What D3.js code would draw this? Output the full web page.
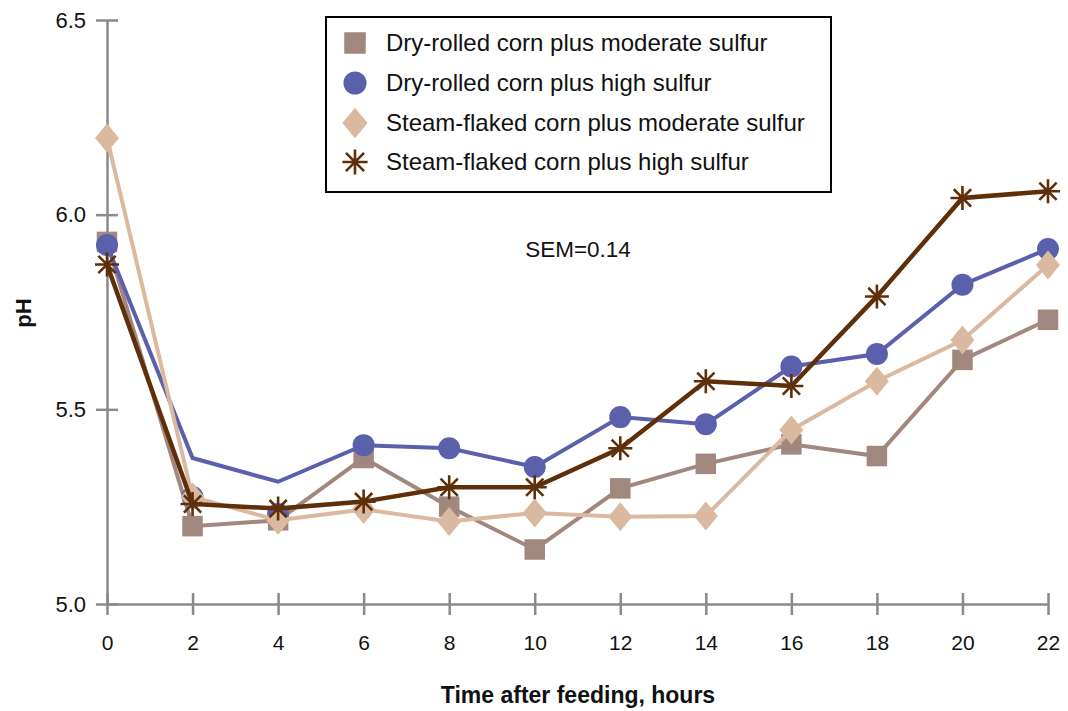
<!DOCTYPE html>
<html>
<head>
<meta charset="utf-8">
<script src="https://cdn.jsdelivr.net/npm/d3@7"></script>
<style>
  body { margin: 0; background: #fff; }
  svg { display: block; font-family: "Liberation Sans", Arial, Helvetica, sans-serif; }
</style>
</head>
<body>
<svg id="chart" width="1068" height="711"></svg>
<script>
const hours = [0, 2, 4, 6, 8, 10, 12, 14, 16, 18, 20, 22];
const xTickLabels = ["0","2","4","6","8","10","12","14","16","18","20","22"];
const yTicks = [5.0, 5.5, 6.0, 6.5];
const yTickLabels = ["5.0", "5.5", "6.0", "6.5"];

const seriesNames = [
  "Dry-rolled corn plus moderate sulfur",
  "Dry-rolled corn plus high sulfur",
  "Steam-flaked corn plus moderate sulfur",
  "Steam-flaked corn plus high sulfur"
];
const seriesColors = ["#a2877f", "#5a60ab", "#dbb9a0", "#5e2f08"];
const seriesShapes = ["square", "circle", "diamond", "star"];

const dryModerate = [5.93, 5.20, 5.215, 5.375, 5.25, 5.14, 5.297, 5.36, 5.41, 5.38, 5.627, 5.73];
const dryHighLine = [5.922, 5.375, 5.314, 5.408, 5.40, 5.352, 5.48, 5.462, 5.61, 5.642, 5.82, 5.912];
const dryHighMarkers = [5.922, 5.275, 5.231, 5.408, 5.40, 5.352, 5.48, 5.462, 5.61, 5.642, 5.82, 5.912];
const steamModerate = [6.197, 5.275, 5.215, 5.243, 5.212, 5.234, 5.224, 5.226, 5.447, 5.572, 5.678, 5.871];
const steamHigh = [5.872, 5.257, 5.245, 5.263, 5.30, 5.30, 5.40, 5.572, 5.56, 5.79, 6.043, 6.06];

const semLabel = "SEM=0.14";
const xTitle = "Time after feeding, hours";
const yTitle = "pH";

const series = [
  { line: dryModerate, markers: dryModerate },
  { line: dryHighLine, markers: dryHighMarkers },
  { line: steamModerate, markers: steamModerate },
  { line: steamHigh, markers: steamHigh }
];

const svg = d3.select("#chart");
const x = d3.scaleLinear().domain([0, 22]).range([107, 1048]);
const y = d3.scaleLinear().domain([5.0, 6.5]).range([604, 20]);
const axisColor = "#8a8a8a";
const fontFam = "Liberation Sans, Arial, sans-serif";

// Y axis
const yAxis = d3.axisLeft(y).tickValues(yTicks).tickSize(0).tickFormat((d, i) => yTickLabels[i]);
const gy = svg.append("g").attr("transform", "translate(107,0)").call(yAxis);
gy.select(".domain").attr("stroke", axisColor).attr("stroke-width", 2.5);
gy.selectAll(".tick text").attr("x", -21).attr("font-size", 22).attr("fill", "#111")
  .attr("font-family", fontFam);
gy.selectAll(".tick").append("line").attr("x1", -11).attr("x2", 11)
  .attr("stroke", axisColor).attr("stroke-width", 2.5);

// X axis
const xAxis = d3.axisBottom(x).tickValues(hours).tickSize(0).tickFormat((d, i) => xTickLabels[i]);
const gx = svg.append("g").attr("transform", "translate(0,604)").call(xAxis);
gx.select(".domain").attr("stroke", axisColor).attr("stroke-width", 2.5);
gx.selectAll(".tick text").attr("y", 46).attr("dy", 0).attr("font-size", 21).attr("fill", "#111")
  .attr("font-family", fontFam);
gx.selectAll(".tick").append("line").attr("y1", -11).attr("y2", 11)
  .attr("stroke", axisColor).attr("stroke-width", 2.5);

// Titles
svg.append("text").attr("x", 578).attr("y", 703).attr("text-anchor", "middle")
  .attr("font-size", 23).attr("font-weight", "bold").attr("fill", "#111").text(xTitle);
svg.append("text").attr("transform", "translate(31,313) rotate(-90)").attr("text-anchor", "middle")
  .attr("font-size", 22).attr("font-weight", "bold").attr("fill", "#111").text(yTitle);

svg.append("text").attr("x", 578).attr("y", 257).attr("text-anchor", "middle")
  .attr("font-size", 22.5).attr("fill", "#111").text(semLabel);

function drawMarker(g, shape, color, cx, cy, scale) {
  scale = scale || 1;
  if (shape === "square") {
    const s = 20.5 * scale;
    g.append("rect").attr("x", cx - s / 2).attr("y", cy - s / 2).attr("width", s).attr("height", s).attr("fill", color);
  } else if (shape === "circle") {
    g.append("circle").attr("cx", cx).attr("cy", cy).attr("r", 11 * scale).attr("fill", color);
  } else if (shape === "diamond") {
    const w = 12 * scale, h = 14.5 * scale;
    g.append("path").attr("d", `M${cx},${cy - h}L${cx + w},${cy}L${cx},${cy + h}L${cx - w},${cy}Z`).attr("fill", color);
  } else if (shape === "star") {
    const r = 12 * scale, d = r * 0.72;
    g.append("path")
      .attr("d", `M${cx - r},${cy}L${cx + r},${cy}M${cx},${cy - r}L${cx},${cy + r}M${cx - d},${cy - d}L${cx + d},${cy + d}M${cx - d},${cy + d}L${cx + d},${cy - d}`)
      .attr("stroke", color).attr("stroke-width", 2.6).attr("fill", "none");
  }
}

const line = d3.line().x((d, i) => x(hours[i])).y(d => y(d));

series.forEach((s, k) => {
  const g = svg.append("g");
  g.append("path").datum(s.line).attr("d", line).attr("fill", "none")
    .attr("stroke", seriesColors[k]).attr("stroke-width", k === 3 ? 4.5 : 4).attr("stroke-linejoin", "miter");
  s.markers.forEach((v, i) => drawMarker(g, seriesShapes[k], seriesColors[k], x(hours[i]), y(v)));
});

// Legend
const lg = svg.append("g");
lg.append("rect").attr("x", 326).attr("y", 17).attr("width", 505).attr("height", 175)
  .attr("fill", "#fff").attr("stroke", "#000").attr("stroke-width", 2);
const legendY = [43, 83, 123, 162];
seriesNames.forEach((name, k) => {
  drawMarker(lg, seriesShapes[k], seriesColors[k], 355, legendY[k], 1.05);
  lg.append("text").attr("x", 386).attr("y", legendY[k]).attr("dy", "0.35em")
    .attr("font-size", 24).attr("fill", "#111").text(name);
});
</script>
</body>
</html>
